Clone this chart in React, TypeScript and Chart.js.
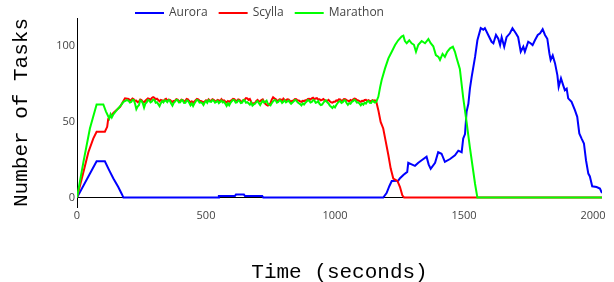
import React, { useEffect, useRef } from "react";
import { Chart, registerables } from "chart.js";

Chart.register(...registerables);

const seriesNames = ["Aurora", "Scylla", "Marathon"];
const seriesColors = ["#0000ff", "#ff0000", "#00ff00"];
const xTicks = [0, 500, 1000, 1500, 2000];
const yTicks = [0, 50, 100];
const xTitle = "Time (seconds)";
const yTitle = "Number of Tasks";

const auroraTime = [
  0, 76, 108, 125, 141, 160, 173, 180, 548, 550, 612, 616, 647, 651, 718, 722, 1187,
  1200, 1211, 1220, 1245, 1253, 1265, 1280, 1284, 1297, 1310, 1323, 1336, 1355, 1363,
  1371, 1388, 1400, 1413, 1426, 1446, 1465, 1478, 1491, 1497, 1504, 1510, 1517, 1523,
  1530, 1543, 1552, 1565, 1575, 1581, 1594, 1607, 1614, 1624, 1633, 1640, 1646, 1656,
  1665, 1678, 1688, 1701, 1710, 1720, 1730, 1736, 1749, 1758, 1766, 1775, 1786, 1795,
  1805, 1814, 1823, 1831, 1836, 1844, 1853, 1862, 1867, 1876, 1885, 1891, 1898, 1904,
  1917, 1930, 1939, 1947, 1956, 1965, 1973, 1982, 1988, 1997, 2014, 2027, 2035,
];
const auroraTasks = [
  0, 24, 24, 18, 12.6, 7, 2.6, 0, 0, 1, 1, 2, 2, 1, 1, 0, 0,
  3, 7.7, 11, 11.2, 13, 15, 17, 23, 22, 21, 23, 24.7, 27, 22,
  19, 23, 30, 29, 23.6, 25.5, 28, 31, 30, 39, 42, 56.7, 62, 72,
  80, 93, 104, 112, 111, 112, 107.5, 103, 102, 107.5, 105, 100.8, 106, 99.7,
  106, 108.6, 112, 108.6, 106, 96.4, 99.7, 96.4, 103, 102, 100.8, 104, 107.5, 108.6,
  111.3, 107.5, 105, 95.4, 91, 94, 88.7, 81, 73.2, 78.8, 74, 71, 72, 65.6,
  63.3, 57.8, 53.4, 42.4, 39, 35.8, 24.7, 15.9, 14, 7.5, 7, 6, 3,
];

// shared plateau sampling times (seconds)
const plateauTime = [
  200, 205, 210, 215, 220, 225, 230, 235, 240, 245, 250, 255, 260, 265, 270, 275, 280, 285, 290, 295,
  300, 305, 310, 315, 320, 325, 330, 335, 340, 345, 350, 355, 360, 365, 370, 375, 380, 385, 390, 395,
  400, 405, 410, 415, 420, 425, 430, 435, 440, 445, 450, 455, 460, 465, 470, 475, 480, 485, 490, 495,
  500, 505, 510, 515, 520, 525, 530, 535, 540, 545, 550, 555, 560, 565, 570, 575, 580, 585, 590, 595,
  600, 605, 610, 615, 620, 625, 630, 635, 640, 645, 650, 655, 660, 665, 670, 675, 680, 685, 690, 695,
  700, 705, 710, 715, 720, 725, 730, 735, 740, 745, 750, 755, 760, 765, 770, 775, 780, 785, 790, 795,
  800, 805, 810, 815, 820, 825, 830, 835, 840, 845, 850, 855, 860, 865, 870, 875, 880, 885, 890, 895,
  900, 905, 910, 915, 920, 925, 930, 935, 940, 945, 950, 955, 960, 965, 970, 975, 980, 985, 990, 995,
  1000, 1005, 1010, 1015, 1020, 1025, 1030, 1035, 1040, 1045, 1050, 1055, 1060, 1065, 1070, 1075, 1080, 1085, 1090, 1095,
  1100, 1105, 1110, 1115, 1120, 1125, 1130, 1135, 1140, 1145, 1150, 1155, 1160,
];

const scyllaRiseTime = [0, 25, 44, 63, 76, 108, 117, 121, 141, 167, 186];
const scyllaRiseTasks = [0, 17, 30, 39, 43.5, 43.5, 46.8, 52, 56, 60, 65.6];
const scyllaPlateauTasks = [
  65.2, 64.2, 64.6, 65.5, 65.0, 63.9, 64.1, 63.0, 63.5, 64.8, 64.4, 63.4, 63.0, 64.0, 64.8, 65.6, 65.3, 64.6, 65.9, 66.4,
  66.0, 64.9, 65.4, 64.5, 63.6, 64.6, 64.2, 63.6, 64.9, 65.3, 64.0, 64.8, 64.6, 63.8, 63.2, 63.9, 64.1, 65.0, 64.7, 63.7,
  63.8, 64.8, 64.5, 63.5, 64.0, 65.2, 64.9, 63.8, 63.0, 63.6, 62.6, 63.5, 64.4, 65.3, 65.0, 64.0, 63.9, 63.4, 62.8, 63.6,
  64.3, 63.7, 64.9, 64.0, 64.1, 65.0, 64.6, 63.7, 63.8, 64.6, 64.2, 63.6, 65.0, 64.1, 64.3, 63.4, 62.9, 63.8, 63.3, 64.0,
  64.5, 65.3, 65.1, 64.0, 64.0, 64.9, 64.6, 63.5, 63.6, 64.5, 64.8, 65.8, 65.6, 64.6, 65.2, 63.4, 61.8, 62.4, 62.5, 63.9,
  64.6, 63.5, 63.8, 64.4, 64.9, 63.4, 62.0, 61.3, 60.8, 61.5, 62.4, 64.8, 66.3, 65.6, 65.2, 64.3, 64.0, 64.9, 64.8, 64.0,
  65.4, 64.6, 64.2, 65.0, 64.9, 64.0, 63.5, 64.0, 64.3, 65.1, 65.0, 64.2, 64.2, 63.6, 63.3, 64.0, 63.8, 64.3, 64.4, 65.2,
  65.3, 64.8, 65.6, 66.0, 65.1, 65.5, 65.7, 64.9, 65.0, 64.3, 64.6, 65.2, 64.4, 63.8, 64.0, 64.6, 63.6, 63.0, 62.8, 63.3,
  63.4, 64.2, 64.0, 64.9, 64.8, 64.0, 64.3, 65.1, 65.0, 64.4, 64.1, 63.6, 64.5, 64.0, 64.9, 65.5, 65.2, 64.5, 64.2, 63.7,
  63.3, 64.0, 63.8, 64.5, 64.6, 63.9, 64.4, 63.8, 63.6, 64.4, 64.0, 64.3, 63.5,
];
const scyllaFallTime = [1168, 1177, 1187, 1197, 1207, 1216, 1226, 1242, 1252, 1261, 1268, 2035];
const scyllaFallTasks = [57.8, 50, 45.7, 36.8, 28, 19.2, 12.6, 11, 7, 1.5, 0, 0];

const marathonRiseTime = [0, 25, 50, 76, 102, 112, 125, 130, 135, 141, 150, 160, 170, 180, 193];
const marathonRiseTasks = [0, 23.6, 45.7, 61.6, 61.6, 57, 52.3, 55, 53, 55, 57, 59, 61, 63.3, 64.5];
const marathonPlateauTasks = [
  64.0, 62.8, 63.2, 64.6, 64.5, 62.0, 58.5, 60.2, 61.0, 64.2, 63.8, 62.4, 59.5, 62.1, 63.0, 64.5, 64.2, 62.9, 63.5, 64.8,
  64.6, 62.7, 63.0, 61.8, 60.5, 62.4, 63.8, 62.9, 64.3, 64.0, 63.1, 64.5, 64.0, 62.2, 60.8, 62.6, 63.5, 64.6, 64.4, 62.9,
  63.0, 64.5, 64.1, 62.5, 62.6, 64.2, 63.9, 62.7, 61.0, 62.3, 60.5, 62.2, 63.6, 64.6, 64.2, 62.8, 63.0, 62.5, 61.2, 62.9,
  63.8, 62.6, 64.4, 63.5, 63.3, 64.5, 64.0, 62.7, 63.2, 64.0, 62.5, 63.3, 64.1, 62.9, 63.4, 62.0, 60.6, 62.3, 61.0, 62.6,
  63.7, 64.6, 64.3, 62.8, 63.0, 64.3, 63.9, 62.5, 62.8, 64.4, 64.2, 62.7, 63.1, 62.4, 61.5, 62.8, 60.8, 61.6, 62.0, 63.2,
  63.8, 62.4, 61.2, 62.8, 64.0, 62.9, 63.3, 64.1, 62.0, 61.4, 60.9, 62.5, 63.6, 64.5, 64.3, 62.8, 63.2, 64.4, 64.0, 62.6,
  63.4, 64.3, 62.9, 63.5, 64.1, 63.0, 62.0, 62.8, 63.6, 64.5, 64.2, 63.0, 62.4, 61.8, 60.9, 62.3, 61.5, 62.6, 63.5, 64.5,
  64.0, 62.8, 63.2, 64.4, 64.3, 62.7, 63.0, 63.8, 62.0, 61.2, 61.5, 62.7, 63.8, 64.3, 63.0, 62.2, 60.8, 60.0, 59.2, 60.4,
  59.6, 61.2, 62.5, 63.4, 63.9, 62.6, 63.1, 64.3, 64.2, 62.5, 61.3, 62.4, 62.0, 63.3, 63.8, 64.6, 64.1, 62.8, 63.0, 62.1,
  61.0, 62.2, 61.4, 62.8, 62.2, 63.5, 63.9, 62.6, 62.5, 64.0, 63.4, 62.8, 63.3,
];
const marathonFallTime = [
  1168, 1175, 1181, 1194, 1207, 1220, 1233, 1245, 1258, 1265, 1271, 1278, 1288,
  1297, 1306, 1314, 1323, 1336, 1349, 1362, 1371, 1381, 1391, 1401, 1407, 1417,
  1426, 1435, 1446, 1457, 1465, 1472, 1484, 1497, 1510, 1523, 1543, 1552, 2035,
];
const marathonFallTasks = [
  66.6, 73, 77.7, 85.4, 92, 96.4, 100.9, 104, 106.4, 107, 103.5, 102, 104,
  102, 101, 96.4, 101, 103.5, 102, 104.8, 102, 100, 94.2, 93, 91, 95,
  93, 96.4, 98.7, 99.7, 96.4, 92, 85, 66, 50, 33, 9, 0, 0,
];

const scyllaTime = [...scyllaRiseTime, ...plateauTime, ...scyllaFallTime];
const scyllaTasks = [...scyllaRiseTasks, ...scyllaPlateauTasks, ...scyllaFallTasks];
const marathonTime = [...marathonRiseTime, ...plateauTime, ...marathonFallTime];
const marathonTasks = [...marathonRiseTasks, ...marathonPlateauTasks, ...marathonFallTasks];

const seriesTimes = [auroraTime, scyllaTime, marathonTime];
const seriesValues = [auroraTasks, scyllaTasks, marathonTasks];

const legendPlugin = {
  id: "topLegend",
  afterDraw(chart: any) {
    const ctx = chart.ctx;
    ctx.save();
    ctx.font = "12px 'Open Sans'";
    ctx.textBaseline = "middle";
    ctx.textAlign = "left";
    let x = 135;
    const y = 13;
    chart.data.datasets.forEach((ds: any) => {
      ctx.strokeStyle = ds.borderColor;
      ctx.lineWidth = 2;
      ctx.beginPath();
      ctx.moveTo(x, y);
      ctx.lineTo(x + 29, y);
      ctx.stroke();
      x += 34;
      ctx.fillStyle = "#444";
      ctx.fillText(ds.label, x, y);
      x += ctx.measureText(ds.label).width + 11;
    });
    ctx.restore();
  },
};

export default function App() {
  const canvasRef = useRef<HTMLCanvasElement | null>(null);

  useEffect(() => {
    const canvas = canvasRef.current;
    if (!canvas) return;
    const datasets = seriesNames.map((name, i) => ({
      label: name,
      data: seriesTimes[i].map((t, j) => ({ x: t, y: seriesValues[i][j] })),
      borderColor: seriesColors[i],
      backgroundColor: seriesColors[i],
      borderWidth: 2,
      pointRadius: 0,
      tension: 0,
      fill: false,
      order: 2 - i,
    }));
    const chart = new Chart(canvas, {
      type: "line",
      data: { datasets },
      plugins: [legendPlugin],
      options: {
        animation: false,
        responsive: false,
        layout: { padding: { top: 18, right: 12, bottom: 0, left: 0 } },
        plugins: { legend: { display: false }, tooltip: { enabled: false } },
        scales: {
          x: {
            type: "linear",
            min: 0,
            max: 2035,
            afterBuildTicks: (s: any) => {
              s.ticks = xTicks.map((v) => ({ value: v }));
            },
            afterFit: (s: any) => {
              s.height = 75;
            },
            grid: { display: false, drawTicks: false },
            border: { display: false },
            ticks: {
              color: "#444",
              font: { family: "'Open Sans'", size: 11 },
              padding: 2,
              maxRotation: 0,
              autoSkip: false,
              callback: (v: any) => String(v),
            },
            title: {
              display: true,
              text: xTitle,
              color: "#000",
              font: { family: "'Liberation Mono', monospace", size: 21, lineHeight: 1 },
              padding: { top: 0, bottom: -1 },
            },
          },
          y: {
            type: "linear",
            min: -6.2,
            max: 118.7,
            afterBuildTicks: (s: any) => {
              s.ticks = yTicks.map((v) => ({ value: v }));
            },
            afterFit: (s: any) => {
              s.width = 77;
            },
            grid: {
              drawTicks: false,
              lineWidth: 1,
              color: (c: any) => (c.tick && c.tick.value === 0 ? "#000" : "rgba(0,0,0,0)"),
            },
            border: { display: true, color: "#000", width: 1 },
            ticks: {
              color: "#444",
              font: { family: "'Open Sans'", size: 11 },
              padding: 2,
              callback: (v: any) => String(v),
            },
            title: {
              display: true,
              text: yTitle,
              color: "#000",
              font: { family: "'Liberation Mono', monospace", size: 21, lineHeight: 1 },
              padding: { top: 10.5, bottom: 0 },
            },
          },
        },
      },
    });
    return () => chart.destroy();
  }, []);

  return (
    <div style={{ position: "absolute", left: 0, top: 0, width: 614, height: 282, background: "#fff" }}>
      <canvas ref={canvasRef} width={614} height={282} />
    </div>
  );
}
